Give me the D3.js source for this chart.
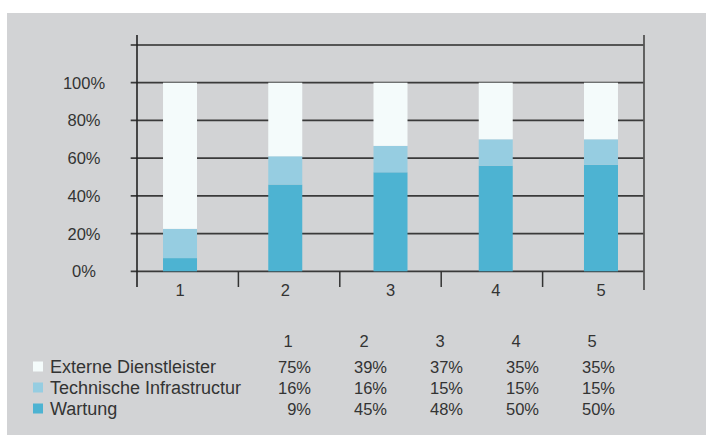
<!DOCTYPE html>
<html><head><meta charset="utf-8">
<script src="https://cdnjs.cloudflare.com/ajax/libs/d3/7.8.5/d3.min.js"></script>
<style>
html,body{margin:0;padding:0;background:#fff;}
svg{display:block;}
text{font-family:"Liberation Sans",Arial,sans-serif;fill:#333;}
</style></head>
<body>
<svg id="chart" width="706" height="435"></svg>
<script>
// ---- data ----
const categories = ["1", "2", "3", "4", "5"];
const seriesNames = ["Externe Dienstleister", "Technische Infrastructur", "Wartung"];
// bar heights as drawn (percent)
const wartungBar = [7, 46, 52.5, 56, 56.5];
const technikBar = [15.5, 15, 14, 14, 13.5];
const externeBar = [77.5, 39, 33.5, 30, 30];
// table values as printed
const externeTable = [75, 39, 37, 35, 35];
const technikTable = [16, 16, 15, 15, 15];
const wartungTable = [9, 45, 48, 50, 50];
const yTickValues = [0, 20, 40, 60, 80, 100];
const yMax = 120;
const colors = { "Externe Dienstleister": "#f4fbfb", "Technische Infrastructur": "#96cde1", "Wartung": "#4db3d2" };

const svg = d3.select("#chart");
svg.append("rect").attr("x", 7).attr("y", 13).attr("width", 699).attr("height", 422).attr("fill", "#d2d3d5");

const y = d3.scaleLinear().domain([0, yMax]).range([271.3, 45]);
const xAxisBand = d3.scaleBand().domain(categories).range([137, 644]);
const xBar = d3.scaleBand().domain(categories).range([127.4, 653.6]).paddingInner(0.677).paddingOuter(0.3385);

// gridlines
const gridVals = yTickValues.concat([yMax]);
svg.append("g").selectAll("line").data(gridVals).join("line")
  .attr("x1", 130.7).attr("x2", 644)
  .attr("y1", d => y(d)).attr("y2", d => y(d))
  .attr("stroke", d => d === yMax ? "#555" : "#3a3a3a").attr("stroke-width", 1.8);

// y labels
svg.append("g").selectAll("text").data(yTickValues).join("text")
  .attr("x", 84).attr("y", d => y(d)).attr("dy", "0.36em")
  .attr("text-anchor", "middle").attr("font-size", 16.5)
  .text(d => d + "%");

// stacked bars
const rows = categories.map((c, i) => ({
  cat: c,
  "Wartung": wartungBar[i],
  "Technische Infrastructur": technikBar[i],
  "Externe Dienstleister": externeBar[i]
}));
const stack = d3.stack().keys(["Wartung", "Technische Infrastructur", "Externe Dienstleister"]);
const layers = stack(rows);
svg.append("g").selectAll("g").data(layers).join("g")
  .attr("fill", d => colors[d.key])
  .selectAll("rect").data(d => d).join("rect")
  .attr("x", d => xBar(d.data.cat))
  .attr("width", xBar.bandwidth())
  .attr("y", d => y(d[1]))
  .attr("height", d => y(d[0]) - y(d[1]));

// axes lines
svg.append("line").attr("x1", 137).attr("x2", 137).attr("y1", 35).attr("y2", 287)
  .attr("stroke", "#222").attr("stroke-width", 1.6);
svg.append("line").attr("x1", 644).attr("x2", 644).attr("y1", 35).attr("y2", 290)
  .attr("stroke", "#555").attr("stroke-width", 1.8);
// category separators
svg.append("g").selectAll("line").data(categories.slice(1)).join("line")
  .attr("x1", d => xAxisBand(d)).attr("x2", d => xAxisBand(d))
  .attr("y1", 271).attr("y2", 287)
  .attr("stroke", "#333").attr("stroke-width", 1.5);
// category labels
svg.append("g").selectAll("text").data(categories).join("text")
  .attr("x", d => xBar(d) + xBar.bandwidth() / 2).attr("y", 290).attr("dy", "0.36em")
  .attr("text-anchor", "middle").attr("font-size", 16.5)
  .text(d => d);

// table legend
const colRight = d3.scaleLinear().domain([0, categories.length - 1]).range([311, 615]);
const headerY = 341, rowY = d3.scaleLinear().domain([0, 2]).range([367, 409]);
svg.append("g").selectAll("text").data(categories).join("text")
  .attr("x", (d, i) => colRight(i) - 23).attr("y", headerY).attr("dy", "0.36em")
  .attr("text-anchor", "middle").attr("font-size", 16.5).text(d => d);

const tableRows = [
  { name: seriesNames[0], vals: externeTable },
  { name: seriesNames[1], vals: technikTable },
  { name: seriesNames[2], vals: wartungTable }
];
const rg = svg.append("g").selectAll("g").data(tableRows).join("g");
rg.append("rect").attr("x", 33).attr("y", (d, i) => rowY(i) - 5.5).attr("width", 10).attr("height", 10)
  .attr("fill", d => colors[d.name]);
rg.append("text").attr("x", 50).attr("y", (d, i) => rowY(i)).attr("dy", "0.36em")
  .attr("font-size", 18).text(d => d.name);
rg.each(function(d, ri) {
  d3.select(this).selectAll("text.v").data(d.vals).join("text").attr("class", "v")
    .attr("x", (v, i) => colRight(i)).attr("y", rowY(ri)).attr("dy", "0.36em")
    .attr("text-anchor", "end").attr("font-size", 16.5).text(v => v + "%");
});
</script>
</body></html>
